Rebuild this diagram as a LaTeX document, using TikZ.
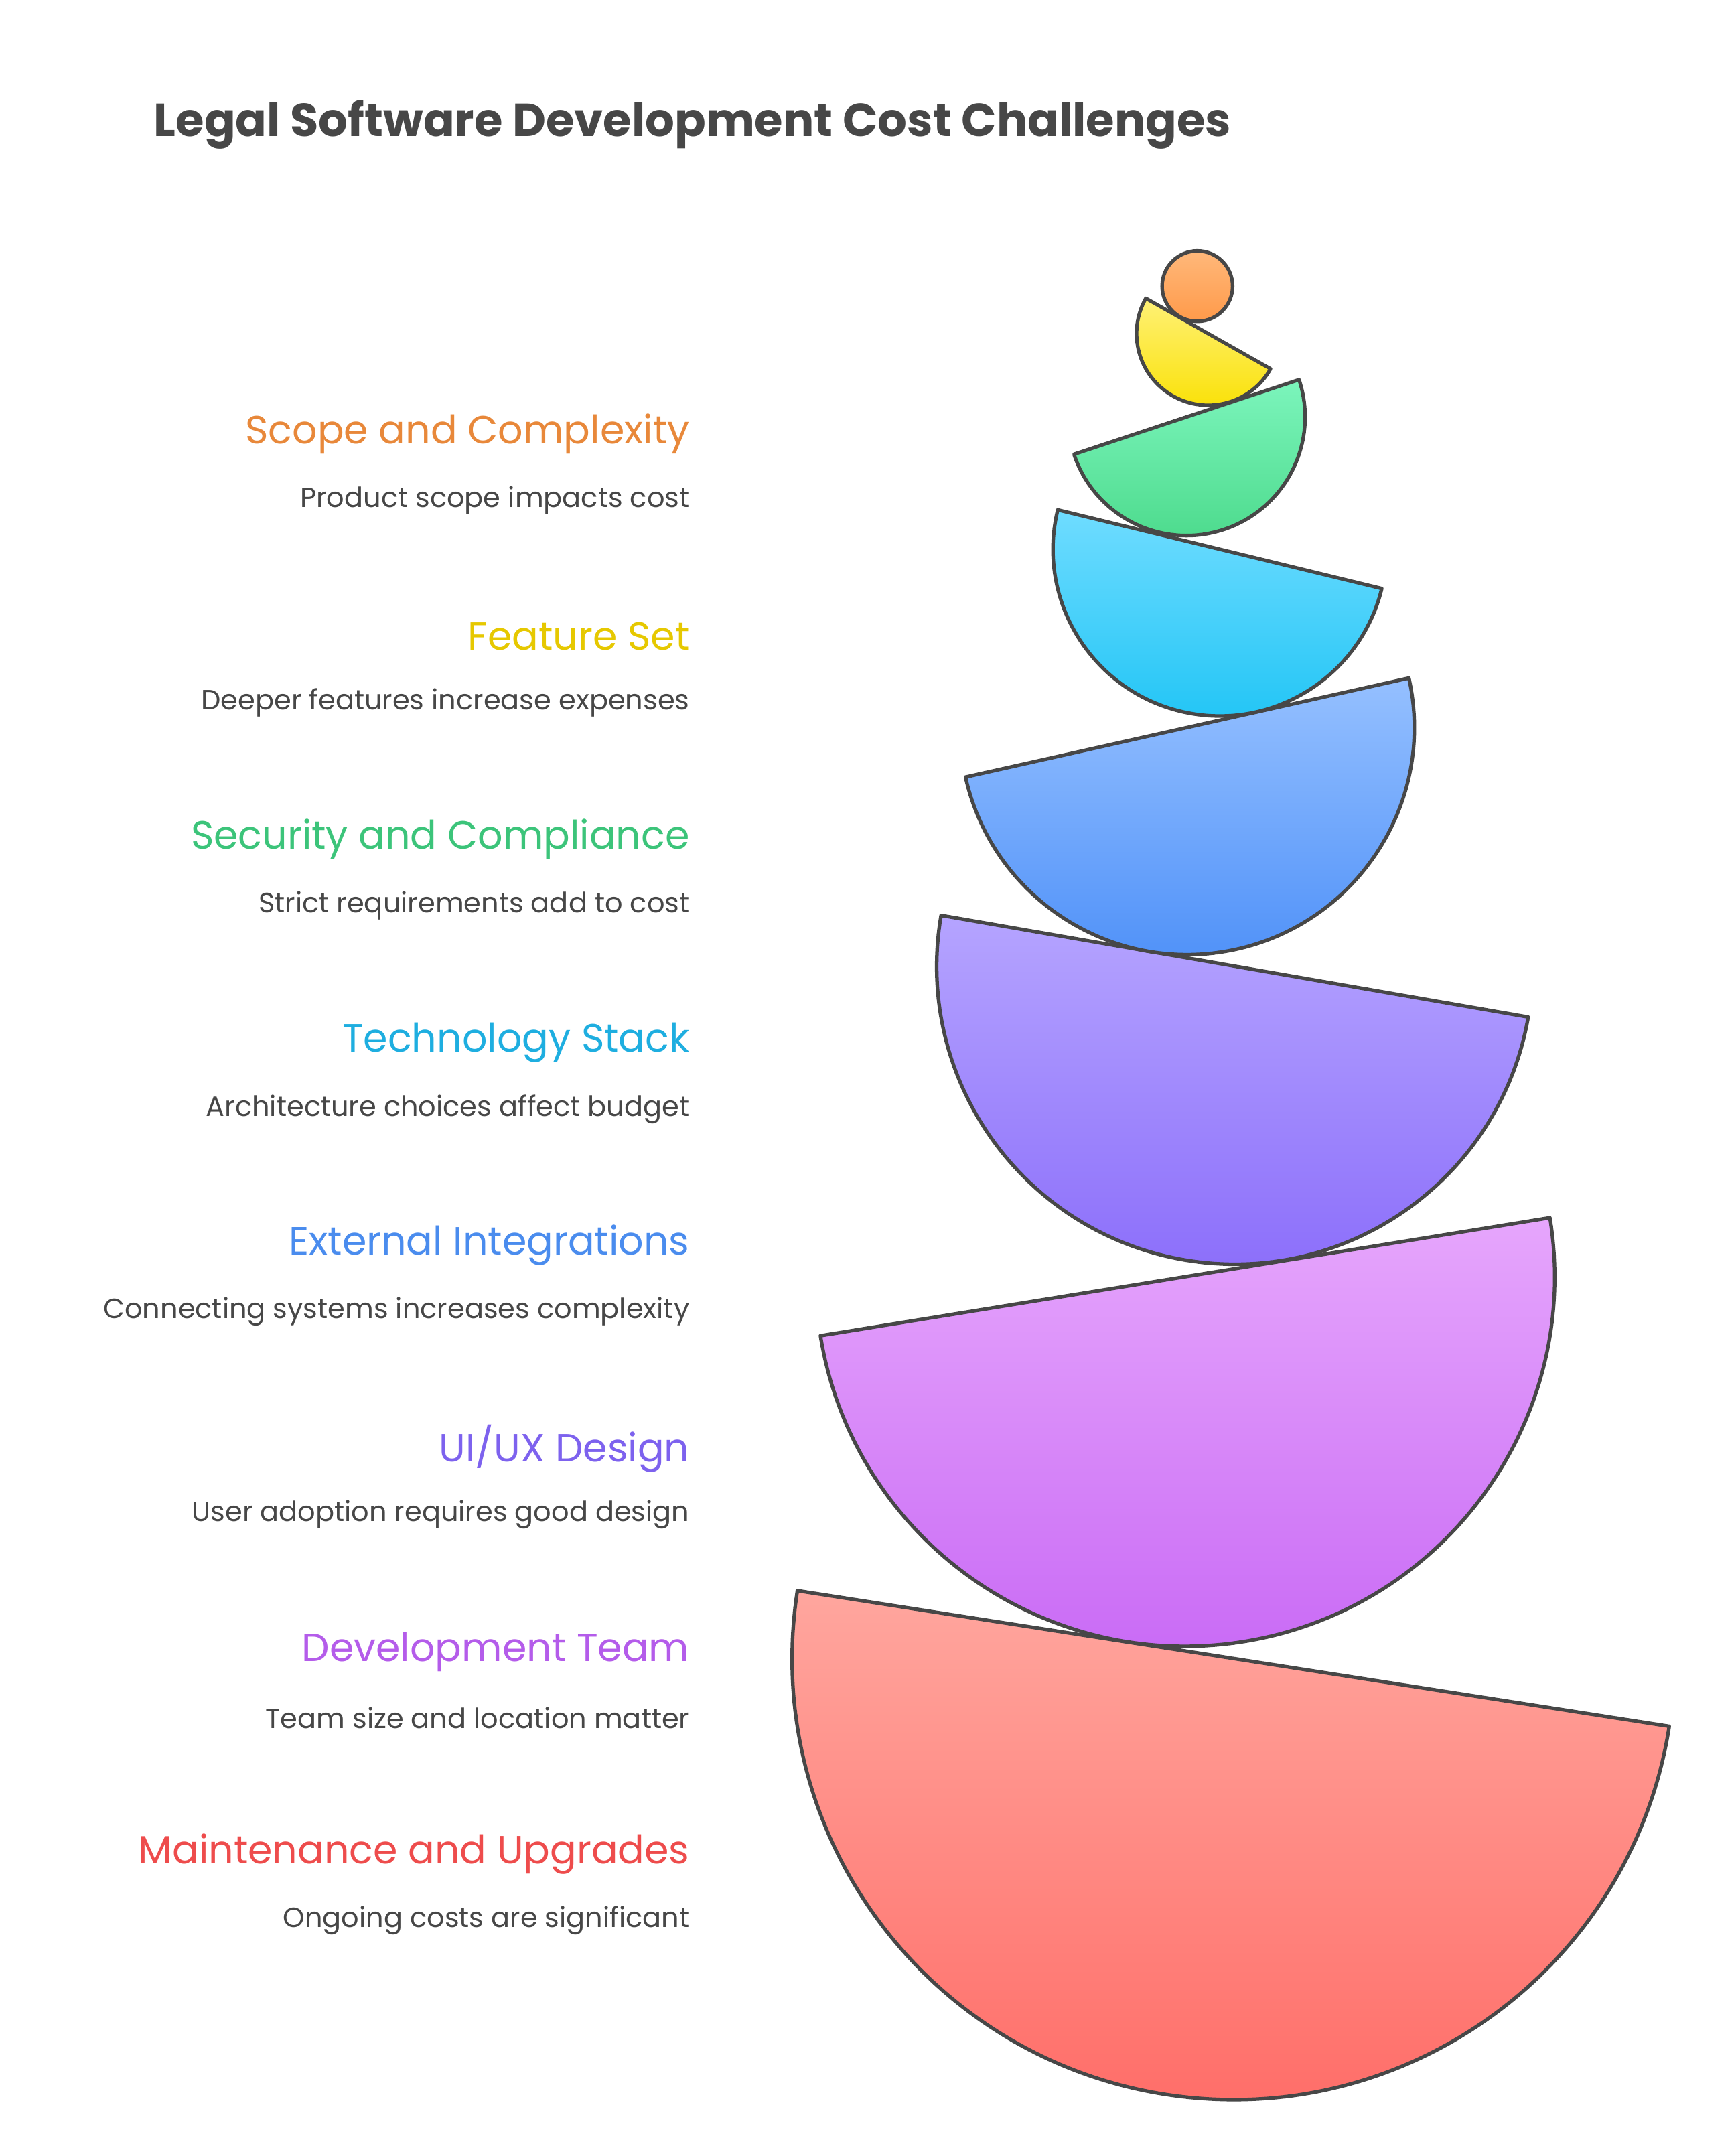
\documentclass[tikz,border=0pt]{standalone}
\usepackage{fontspec}
\setmainfont{Poppins}
\begin{document}
\begin{tikzpicture}[x=1pt,y=-1pt,
  shp/.style={draw=black!72,line width=2.6pt,line join=round},
  ttl/.style={anchor=east,font=\fontsize{29}{32}\selectfont},
  dsc/.style={anchor=east,text=black!72,font=\fontsize{20.5}{24}\selectfont}]
\useasboundingbox[fill=white] (0,0) rectangle (1280,1584);
\newcommand\hd[6]{%
  \pgfmathsetmacro\ang{atan2(-(#4-#2),#3-#1)}%
  \pgfmathsetmacro\rr{veclen(#3-#1,#4-#2)/2}%
  \draw[shp,top color=#5,bottom color=#6] (#1,#2) -- (#3,#4) arc[start angle=\ang,delta angle=-180,radius=\rr pt] -- cycle;}
\definecolor{o1}{HTML}{FFB87A}\definecolor{o2}{HTML}{FF9A4A}
\definecolor{y1}{HTML}{FFF176}\definecolor{y2}{HTML}{F9E000}
\definecolor{g1}{HTML}{7CF5BC}\definecolor{g2}{HTML}{4AD98A}
\definecolor{c1}{HTML}{6FDCFF}\definecolor{c2}{HTML}{1EC4F5}
\definecolor{b1}{HTML}{95C0FF}\definecolor{b2}{HTML}{4C8FF8}
\definecolor{p1}{HTML}{B5A4FF}\definecolor{p2}{HTML}{8A6CFA}
\definecolor{v1}{HTML}{E6A6FC}\definecolor{v2}{HTML}{C868F5}
\definecolor{r1}{HTML}{FFA69E}\definecolor{r2}{HTML}{FF6B66}
\hd{588}{1173}{1231}{1273}{r1}{r2}
\hd{605}{985}{1143}{898}{v1}{v2}
\hd{694}{675}{1127}{750}{p1}{p2}
\hd{712}{573}{1039}{500}{b1}{b2}
\hd{780}{376}{1019}{434}{c1}{c2}
\hd{792}{335}{958}{280}{g1}{g2}
\hd{845}{220}{937}{272}{y1}{y2}
\shade[top color=o1,bottom color=o2] (883,211) circle[radius=26pt];
\draw[shp] (883,211) circle[radius=26pt];
\node[anchor=west,text=black!72,font=\fontsize{34}{38}\selectfont\bfseries] (title) at (110,92) {Legal Software Development Cost Challenges};
\node[ttl,text={rgb,255:red,232;green,136;blue,58}] (t1) at (512,320) {Scope and Complexity};
\node[dsc] (d1) at (512,369) {Product scope impacts cost};
\node[ttl,text={rgb,255:red,230;green,200;blue,0}] (t2) at (512,469) {Feature Set};
\node[dsc] (d2) at (512,518) {Deeper features increase expenses};
\node[ttl,text={rgb,255:red,60;green,196;blue,122}] (t3) at (512,619) {Security and Compliance};
\node[dsc] (d3) at (512,668) {Strict requirements add to cost};
\node[ttl,text={rgb,255:red,30;green,174;blue,224}] (t4) at (512,769) {Technology Stack};
\node[dsc] (d4) at (512,818) {Architecture choices affect budget};
\node[ttl,text={rgb,255:red,74;green,140;blue,238}] (t5) at (512,918) {External Integrations};
\node[dsc] (d5) at (512,967) {Connecting systems increases complexity};
\node[ttl,text={rgb,255:red,125;green,98;blue,238}] (t6) at (512,1068) {UI/UX Design};
\node[dsc] (d6) at (512,1117) {User adoption requires good design};
\node[ttl,text={rgb,255:red,180;green,92;blue,234}] (t7) at (512,1218) {Development Team};
\node[dsc] (d7) at (512,1267) {Team size and location matter};
\node[ttl,text={rgb,255:red,238;green,76;blue,76}] (t8) at (512,1367) {Maintenance and Upgrades};
\node[dsc] (d8) at (512,1416) {Ongoing costs are significant};
\end{tikzpicture}
\end{document}
